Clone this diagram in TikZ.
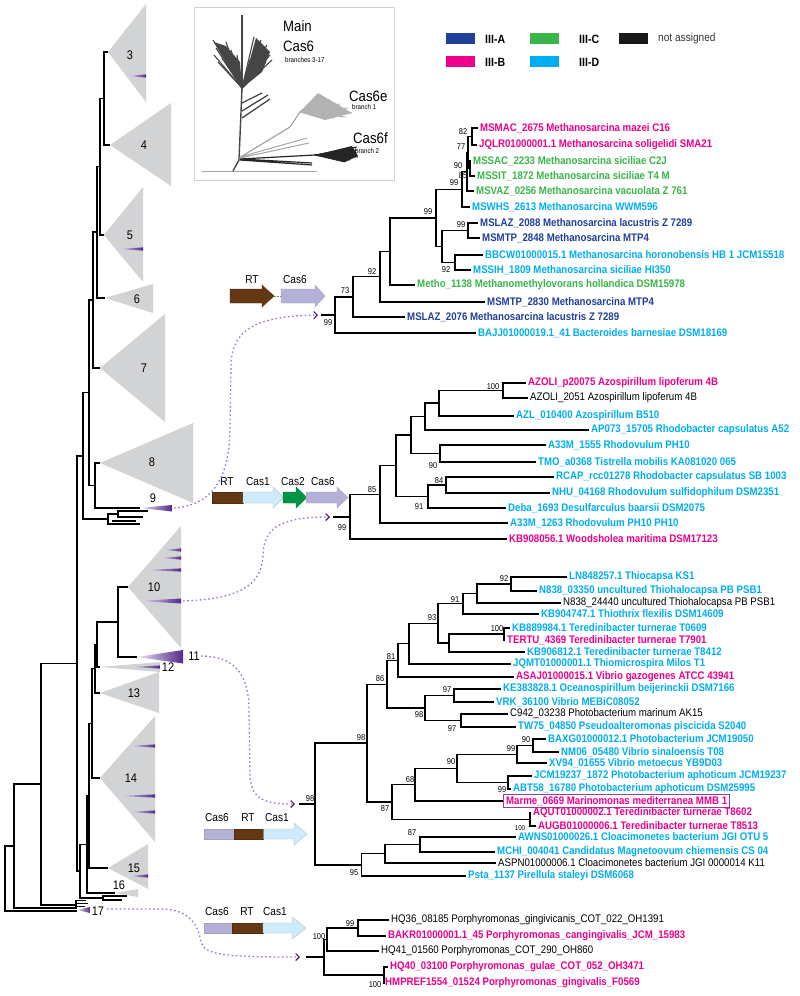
\documentclass[tikz,border=0pt]{standalone}
\usepackage{fontspec}
\setmainfont{Liberation Sans}[FakeStretch=0.88]
\usetikzlibrary{arrows.meta}
\definecolor{cA}{RGB}{33,64,154}
\definecolor{cB}{RGB}{236,0,140}
\definecolor{cC}{RGB}{57,181,74}
\definecolor{cD}{RGB}{0,174,239}
\definecolor{wedge}{RGB}{84,40,140}
\definecolor{dotc}{RGB}{160,115,210}
\definecolor{tipc}{RGB}{80,30,120}
\definecolor{tri}{RGB}{210,211,213}
\definecolor{rtc}{RGB}{101,56,20}
\definecolor{casone}{RGB}{205,235,250}
\definecolor{castwo}{RGB}{0,150,70}
\definecolor{cassix}{RGB}{180,176,216}
\definecolor{boxc}{RGB}{150,60,160}
\tikzset{
 tl/.style={line width=1.3pt, line join=miter},
 lt/.style={line width=1.4pt, line join=miter},
 lN/.style={anchor=west, inner sep=0pt, font=\fontsize{11}{12}\selectfont, text=black},
 lA/.style={lN, font=\fontsize{11}{12}\selectfont\bfseries, text=cA},
 lB/.style={lN, font=\fontsize{11}{12}\selectfont\bfseries, text=cB},
 lC/.style={lN, font=\fontsize{11}{12}\selectfont\bfseries, text=cC},
 lD/.style={lN, font=\fontsize{11}{12}\selectfont\bfseries, text=cD},
 bs/.style={inner sep=0pt, font=\fontsize{8.5}{9}\selectfont},
 gl/.style={inner sep=0pt, font=\fontsize{11.5}{12}\selectfont},
 cl/.style={inner sep=0pt, font=\fontsize{12.5}{13}\selectfont},
 leg/.style={anchor=west, inner sep=0pt, font=\fontsize{12}{13}\selectfont\bfseries},
 dotl/.style={draw=dotc, line width=1.3pt, dash pattern=on 1.6pt off 2.6pt,
   -{Straight Barb[length=3.5pt,width=7pt,color=tipc,line width=1.1pt]}},
 gbox/.style={line width=0.4pt},
 wd/.style={left color=wedge!12, right color=wedge},
}
\newcommand\tbr[5]{\draw[tl] (#2,#3) -- (#1,#3) -- (#1,#4) -- (#5,#4);}
\newcommand\lbr[5]{\draw[lt] (#2,#3) -- (#1,#3) -- (#1,#4) -- (#5,#4);}
\newcounter{nid}
\newcommand\lbl[4]{\stepcounter{nid}\node[#1] (L\arabic{nid}) at (#2,#3) {#4};}
\newcommand\bsv[3]{\stepcounter{nid}\node[bs] (B\arabic{nid}) at (#1,#2) {#3};}
\newcommand\pl[3]{\shade[wd] (#1,#3) -- (#2,#3-1.6) -- (#2,#3+1.6) -- cycle;}
\begin{document}
\begin{tikzpicture}[x=1pt,y=-1pt]
\useasboundingbox (0,0) rectangle (800,996);
\fill[white] (0,0) rectangle (800,996);

% ---------------- left overview tree ----------------
\fill[tri] (108,52) -- (146,4) -- (146,102) -- cycle;
\fill[tri] (110,145) -- (171,103) -- (171,186) -- cycle;
\fill[tri] (104,235) -- (143,187) -- (143,282) -- cycle;
\fill[tri] (105,298) -- (153,284) -- (153,313) -- cycle;
\fill[tri] (100,368) -- (165,314) -- (165,422) -- cycle;
\fill[tri] (100,463) -- (193,423) -- (193,503) -- cycle;
\fill[tri] (128,587) -- (181,526) -- (181,648) -- cycle;
\fill[tri] (100,667) -- (160,662) -- (160,672) -- cycle;
\fill[tri] (100,693) -- (159,672) -- (159,713) -- cycle;
\fill[tri] (100,778) -- (155,716) -- (155,842) -- cycle;
\fill[tri] (108,868) -- (148,844) -- (148,889) -- cycle;
\fill[tri] (115,893) -- (138,889) -- (138,897) -- cycle;

\pl{127}{146}{76}
\pl{117}{143}{249}
\pl{163}{181}{550}
\pl{160}{181}{558}
\pl{143}{181}{570}
\shade[wd] (138,601) -- (181,598.5) -- (181,603.5) -- cycle;
\pl{128}{155}{746}
\pl{117}{155}{796}
\pl{128}{155}{812}
\pl{128}{148}{876}
\pl{130}{160}{667}
\shade[wd] (140,508) -- (172,505) -- (172,511.5) -- cycle;
\shade[wd] (137,657) -- (183,650) -- (183,663.5) -- cycle;
\shade[wd] (77,910) -- (90,907) -- (90,913) -- cycle;

\node[cl] (c3) at (130,55) {3};
\node[cl] (c4) at (144,145) {4};
\node[cl] (c5) at (130,235) {5};
\node[cl] (c6) at (137,299) {6};
\node[cl] (c7) at (144,368) {7};
\node[cl] (c8) at (152,462) {8};
\node[cl] (c9) at (153,498) {9};
\node[cl] (c10) at (154,587) {10};
\node[cl] (c11) at (194,656) {11};
\node[cl] (c12) at (168,667) {12};
\node[cl] (c13) at (134,693) {13};
\node[cl] (c14) at (131,778) {14};
\node[cl] (c15) at (134,868) {15};
\node[cl] (c16) at (119,885) {16};
\node[cl] (c17) at (98,911) {17};

\lbr{104}{108}{52}{145}{110}
\lbr{100}{104}{98.5}{235}{104}
\lbr{97}{100}{166.75}{298}{105}
\lbr{93}{97}{232}{368}{100}
\lbr{95}{100}{463}{508}{140}
\lbr{89}{93}{300}{485.5}{95}
\lbr{83}{89}{392.75}{519}{108}
\lbr{108}{118}{514}{524}{140}
\lbr{118}{148}{511}{517}{143}
\draw[lt] (112,521) -- (136,521);
\lbr{118}{128}{587}{657}{137}
\lbr{97}{118}{622}{667}{100}
\lbr{95}{97}{644.5}{693}{100}
\lbr{92}{95}{668.75}{778}{100}
\lbr{89}{92}{723.4}{868}{108}
\lbr{87}{89}{795.7}{893}{115}
\lbr{80}{87}{844.35}{898}{103}
\lbr{103}{127}{896}{900}{122}
\lbr{77}{83}{456}{871}{80}
\lbr{41}{77}{663.5}{905}{76}
\lbr{14}{41}{784}{908}{76}
\lbr{5}{14}{846}{911}{77}
\draw[lt] (76,900) -- (76,909);
\draw[lt] (76,900.5) -- (86,900.5) (76,903.5) -- (88,903.5) (76,906.5) -- (85,906.5);

% ---------------- inset ----------------
\draw[gray!35, line width=0.8pt] (194,7) rectangle (394,180);
\draw[gray!70, line width=1pt] (202,171) -- (317,171);
\draw[gray!55!black, line width=1.4pt] (233,171) -- (239,160) -- (242,88);
\draw[gray!55!black, line width=2.2pt] (242,88) -- (242,15);
\fill[gray!55!black] (242,88) -- (214,42) -- (226,46) -- (240,62) -- cycle;
\fill[gray!55!black] (242,88) -- (256,38) -- (270,52) -- (262,72) -- cycle;
\foreach \p in {(213,40),(216,48),(214,55),(220,45),(222,58),(226,42),(228,62),(231,50),(234,66),(237,55),(218,62),
               (254,37),(257,45),(261,40),(264,50),(267,45),(270,55),(272,60),(266,62),(262,70),(258,66),(255,75),(250,60)}
  \draw[gray!55!black, line width=1.1pt] (242,88) -- \p;
\draw[gray!55!black, line width=1.3pt] (242,103) -- (262,93) (242,111) -- (268,95) (242,118) -- (270,99);
\draw[gray!75, line width=1.1pt] (239,158) -- (290,127) -- (300,112);
\fill[gray!60] (300,112) -- (318,93) -- (352,113) -- (325,120) -- cycle;
\foreach \p in {(320,95),(330,100),(340,104),(352,113),(345,117),(335,118),(325,119),(315,100),(310,105),(348,108)}
  \draw[gray!60, line width=1pt] (300,112) -- \p;
\draw[gray!70, line width=1pt] (240,157) -- (307,138) (240,158) -- (309,143);
\draw[black!85, line width=1.2pt] (240,159) -- (312,163) (240,160) -- (312,165) (240,159) -- (315,155);
\fill[black!85] (315,155) -- (352,146) -- (358,156) -- (345,162) -- cycle;
\foreach \p in {(357,147),(357,150),(352,153),(358,157),(350,160),(345,162)}
  \draw[black!85, line width=1pt] (315,155) -- \p;
\node[anchor=west, inner sep=0pt, font=\fontsize{15}{16}\selectfont] (im1) at (283,26) {Main};
\node[anchor=west, inner sep=0pt, font=\fontsize{15}{16}\selectfont] (im2) at (283,46) {Cas6};
\node[anchor=west, inner sep=0pt, font=\fontsize{7}{8}\selectfont] (im3) at (285,60) {branches 3-17};
\node[anchor=west, inner sep=0pt, font=\fontsize{15}{16}\selectfont] (im4) at (349,96) {Cas6e};
\node[anchor=west, inner sep=0pt, font=\fontsize{7}{8}\selectfont] (im5) at (352,107) {branch 1};
\node[anchor=west, inner sep=0pt, font=\fontsize{15}{16}\selectfont] (im6) at (353,138) {Cas6f};
\node[anchor=west, inner sep=0pt, font=\fontsize{7}{8}\selectfont] (im7) at (355,151) {branch 2};

% ---------------- legend ----------------
\fill[cA] (446,33) rectangle (475,44);
\fill[cC] (530,33) rectangle (559,44);
\fill[black!90] (619,33) rectangle (648,44);
\fill[cB] (446,56) rectangle (475,67);
\fill[cD] (530,56) rectangle (559,67);
\node[leg] (g1) at (485,39) {III-A};
\node[leg] (g2) at (579,39) {III-C};
\node[anchor=west, inner sep=0pt, font=\fontsize{11.5}{12}\selectfont, text=black!80] (g3) at (658,39) {not assigned};
\node[leg] (g4) at (485,62) {III-B};
\node[leg] (g5) at (579,62) {III-D};

% ---------------- tree 1 ----------------
\tbr{472}{478}{128}{145}{477}
\tbr{470}{471}{161}{176}{475}
\tbr{468}{472}{136.5}{168.5}{470}
\tbr{467}{468}{152.5}{191}{474}
\tbr{462}{467}{171.75}{207}{470}
\tbr{468}{478}{223}{238}{480}
\tbr{455}{483}{255}{270}{471}
\tbr{442}{468}{230.5}{262.5}{455}
\tbr{436}{462}{189.4}{246.5}{442}
\tbr{390}{436}{218}{285}{415}
\tbr{380}{390}{251.5}{302}{485}
\tbr{353}{380}{276.75}{317}{405}
\tbr{335}{353}{297}{333}{476}
\draw[tl] (321,315) -- (335,315);
\lbl{lB}{480}{128}{MSMAC\_2675 Methanosarcina mazei C16}
\lbl{lB}{479}{145}{JQLR01000001.1 Methanosarcina soligelidi SMA21}
\lbl{lC}{473}{161}{MSSAC\_2233 Methanosarcina siciliae C2J}
\lbl{lC}{477}{176}{MSSIT\_1872 Methanosarcina siciliae T4 M}
\lbl{lC}{476}{191}{MSVAZ\_0256 Methanosarcina vacuolata Z 761}
\lbl{lD}{472}{207}{MSWHS\_2613 Methanosarcina WWM596}
\lbl{lA}{480}{223}{MSLAZ\_2088 Methanosarcina lacustris Z 7289}
\lbl{lA}{482}{238}{MSMTP\_2848 Methanosarcina MTP4}
\lbl{lD}{485}{255}{BBCW01000015.1 Methanosarcina horonobensis HB 1 JCM15518}
\lbl{lD}{473}{270}{MSSIH\_1809 Methanosarcina siciliae HI350}
\lbl{lC}{417}{285}{Metho\_1138 Methanomethylovorans hollandica DSM15978}
\lbl{lA}{487}{302}{MSMTP\_2830 Methanosarcina MTP4}
\lbl{lA}{407}{317}{MSLAZ\_2076 Methanosarcina lacustris Z 7289}
\lbl{lD}{478}{333}{BAJJ01000019.1\_41 Bacteroides barnesiae DSM18169}
\bsv{463}{132}{82}
\bsv{461}{147}{77}
\bsv{458}{166}{90}
\bsv{463}{176}{85}
\bsv{454}{183}{99}
\bsv{428}{212}{99}
\bsv{461}{225}{99}
\bsv{446}{270}{92}
\bsv{372}{272}{92}
\bsv{345}{291}{73}
\bsv{328}{323}{99}

% ---------------- tree 2 ----------------
\tbr{503}{526}{383}{398}{528}
\tbr{439}{503}{390.5}{416}{514}
\tbr{425}{439}{403}{430}{589}
\tbr{440}{546}{445}{462}{536}
\tbr{411}{425}{416.5}{453.5}{440}
\tbr{446}{554}{477}{493}{550}
\tbr{428}{446}{485}{508}{506}
\tbr{396}{411}{435}{496.5}{428}
\tbr{380}{396}{465.75}{523}{508}
\tbr{350}{380}{494.4}{539}{507}
\draw[tl] (333,517) -- (350,517);
\lbl{lB}{528}{383}{AZOLI\_p20075 Azospirillum lipoferum 4B}
\lbl{lN}{530}{398}{AZOLI\_2051 Azospirillum lipoferum 4B}
\lbl{lD}{516}{416}{AZL\_010400 Azospirillum B510}
\lbl{lD}{591}{430}{AP073\_15705 Rhodobacter capsulatus A52}
\lbl{lD}{548}{445}{A33M\_1555 Rhodovulum PH10}
\lbl{lD}{538}{462}{TMO\_a0368 Tistrella mobilis KA081020 065}
\lbl{lD}{556}{477}{RCAP\_rcc01278 Rhodobacter capsulatus SB 1003}
\lbl{lD}{552}{493}{NHU\_04168 Rhodovulum sulfidophilum DSM2351}
\lbl{lD}{508}{508}{Deba\_1693 Desulfarculus baarsii DSM2075}
\lbl{lD}{510}{523}{A33M\_1263 Rhodovulum PH10 PH10}
\lbl{lB}{509}{539}{KB908056.1 Woodsholea maritima DSM17123}
\bsv{493}{387}{100}
\bsv{433}{466}{90}
\bsv{439}{481}{84}
\bsv{419}{507}{91}
\bsv{372}{490}{85}
\bsv{342}{528}{99}

% ---------------- tree 3 ----------------
\tbr{511}{567}{577}{591}{537}
\tbr{477}{511}{584}{603}{561}
\tbr{463}{477}{593.5}{614}{539}
\tbr{504}{510}{628}{640}{505}
\tbr{449}{504}{634}{652}{525}
\tbr{438}{463}{603.75}{643}{449}
\tbr{409}{438}{623.4}{664}{511}
\tbr{398}{409}{643.7}{677}{514}
\tbr{454}{501}{689}{702}{494}
\tbr{461}{508}{714}{727}{516}
\tbr{425}{454}{695.5}{720.5}{461}
\tbr{387}{398}{660.35}{708}{425}
\tbr{533}{546}{739}{752}{559}
\tbr{517}{533}{745.5}{763}{547}
\tbr{508}{532}{776}{789}{511}
\tbr{457}{517}{754.25}{782.5}{508}
\tbr{415}{457}{768.4}{801}{503}
\tbr{530}{531}{813}{826}{536}
\tbr{392}{415}{784.7}{819.5}{530}
\tbr{367}{387}{684.2}{802.1}{392}
\tbr{420}{516}{837}{852}{495}
\tbr{385}{420}{844.5}{863}{496}
\tbr{361.5}{385}{853.75}{876}{466}
\tbr{315}{367}{743.1}{864.9}{361.5}
\draw[tl] (299,804) -- (315,804);
\lbl{lD}{569}{577}{LN848257.1 Thiocapsa KS1}
\lbl{lD}{539}{591}{N838\_03350 uncultured Thiohalocapsa PB PSB1}
\lbl{lN}{563}{603}{N838\_24440 uncultured Thiohalocapsa PB PSB1}
\lbl{lD}{541}{614}{KB904747.1 Thiothrix flexilis DSM14609}
\lbl{lD}{512}{628}{KB889984.1 Teredinibacter turnerae T0609}
\lbl{lB}{507}{640}{TERTU\_4369 Teredinibacter turnerae T7901}
\lbl{lD}{527}{652}{KB906812.1 Teredinibacter turnerae T8412}
\lbl{lD}{513}{664}{JQMT01000001.1 Thiomicrospira Milos T1}
\lbl{lB}{516}{677}{ASAJ01000015.1 Vibrio gazogenes ATCC 43941}
\lbl{lD}{503}{689}{KE383828.1 Oceanospirillum beijerinckii DSM7166}
\lbl{lD}{496}{702}{VRK\_36100 Vibrio MEBiC08052}
\lbl{lN}{510}{714}{C942\_03238 Photobacterium marinum AK15}
\lbl{lD}{518}{727}{TW75\_04850 Pseudoalteromonas piscicida S2040}
\lbl{lD}{548}{739}{BAXG01000012.1 Photobacterium JCM19050}
\lbl{lD}{561}{752}{NM06\_05480 Vibrio sinaloensis T08}
\lbl{lD}{549}{763}{XV94\_01655 Vibrio metoecus YB9D03}
\lbl{lD}{534}{776}{JCM19237\_1872 Photobacterium aphoticum JCM19237}
\lbl{lD}{513}{789}{ABT58\_16780 Photobacterium aphoticum DSM25995}
\lbl{lB, draw=boxc, line width=1.2pt, inner xsep=2.5pt, inner ysep=1.6pt}{503}{801}{Marme\_0669 Marinomonas mediterranea MMB 1}
\lbl{lB}{533}{813}{AQUT01000002.1 Teredinibacter turnerae T8602}
\lbl{lB}{538}{826}{AUGB01000006.1 Teredinibacter turnerae T8513}
\lbl{lD}{518}{837}{AWNS01000026.1 Cloacimonetes bacterium JGI OTU 5}
\lbl{lD}{497}{852}{MCHI\_004041 Candidatus Magnetoovum chiemensis CS 04}
\lbl{lN}{498}{863}{ASPN01000006.1 Cloacimonetes bacterium JGI 0000014 K11}
\lbl{lD}{468}{876}{Psta\_1137 Pirellula staleyi DSM6068}
\bsv{504}{579}{92}
\bsv{455}{600}{91}
\bsv{432}{618}{93}
\bsv{497}{629}{100}
\bsv{391}{657}{81}
\bsv{380}{679}{86}
\bsv{447}{690}{97}
\bsv{419}{715}{98}
\bsv{452}{729}{97}
\bsv{361}{738}{98}
\bsv{526}{740}{90}
\bsv{511}{749}{99}
\bsv{451}{762}{90}
\bsv{410}{780}{68}
\bsv{502}{790}{99}
\bsv{385}{809}{87}
\node[bs, font=\fontsize{7}{8}\selectfont] (B100) at (520,828) {100};
\bsv{412}{833}{87}
\bsv{354}{873}{95}
\bsv{310}{799}{98}

% ---------------- tree 4 ----------------
\tbr{358}{389}{920}{936}{386}
\tbr{327}{358}{928}{951}{379}
\tbr{384}{388}{967}{983}{384.5}
\tbr{324}{327}{939.5}{975}{384}
\draw[tl] (306,957) -- (324,957);
\lbl{lN}{391}{920}{HQ36\_08185 Porphyromonas\_gingivicanis\_COT\_022\_OH1391}
\lbl{lB}{388}{936}{BAKR01000001.1\_45 Porphyromonas\_cangingivalis\_JCM\_15983}
\lbl{lN}{381}{951}{HQ41\_01560 Porphyromonas\_COT\_290\_OH860}
\lbl{lB}{390}{967}{HQ40\_03100 Porphyromonas\_gulae\_COT\_052\_OH3471}
\lbl{lB}{385}{983}{HMPREF1554\_01524 Porphyromonas\_gingivalis\_F0569}
\bsv{350}{924}{99}
\bsv{319}{937}{100}
\bsv{375}{985}{100}

% ---------------- gene clusters ----------------
\filldraw[fill=rtc, draw=rtc!80!black, gbox] (230,289) -- (262,289) -- (262,285) -- (274,296) -- (262,307) -- (262,303) -- (230,303) -- cycle;
\draw[gray, line width=0.8pt, dash pattern=on 1.5pt off 1.5pt] (274,296) -- (281,296);
\filldraw[fill=cassix, draw=cassix!70!gray, gbox] (281,289) -- (315,289) -- (315,285) -- (325,296) -- (315,307) -- (315,303) -- (281,303) -- cycle;
\node[gl] (ga1) at (252,280) {RT};
\node[gl] (ga2) at (295,280) {Cas6};

\filldraw[fill=rtc, draw=rtc!80!black, gbox] (212,492) rectangle (243,503);
\filldraw[fill=casone, draw=casone!60!gray, gbox] (243,492) -- (273,492) -- (273,487) -- (284,497.5) -- (273,508) -- (273,503) -- (243,503) -- cycle;
\filldraw[fill=castwo, draw=castwo!80!black, gbox] (283,492) -- (296,492) -- (296,487) -- (307,497.5) -- (296,508) -- (296,503) -- (283,503) -- cycle;
\filldraw[fill=cassix, draw=cassix!70!gray, gbox] (306,492) -- (337,492) -- (337,487) -- (348,497.5) -- (337,508) -- (337,503) -- (306,503) -- cycle;
\node[gl] (gb1) at (227,482) {RT};
\node[gl] (gb2) at (258,482) {Cas1};
\node[gl] (gb3) at (293,482) {Cas2};
\node[gl] (gb4) at (323,482) {Cas6};

\filldraw[fill=cassix, draw=cassix!70!gray, gbox] (204,829) rectangle (234,839);
\filldraw[fill=rtc, draw=rtc!80!black, gbox] (234,829) rectangle (263.5,839);
\filldraw[fill=casone, draw=casone!60!gray, gbox] (263.5,829) -- (294,829) -- (294,823) -- (307,834) -- (294,845) -- (294,839) -- (263.5,839) -- cycle;
\node[gl] (gc1) at (217,818) {Cas6};
\node[gl] (gc2) at (248,818) {RT};
\node[gl] (gc3) at (277,818) {Cas1};

\filldraw[fill=cassix, draw=cassix!70!gray, gbox] (204,923) rectangle (232,933);
\filldraw[fill=rtc, draw=rtc!80!black, gbox] (232,923) rectangle (263,933);
\filldraw[fill=casone, draw=casone!60!gray, gbox] (263,923) -- (292,923) -- (292,917) -- (306,928) -- (292,939) -- (292,933) -- (263,933) -- cycle;
\node[gl] (gd1) at (217,912) {Cas6};
\node[gl] (gd2) at (247,912) {RT};
\node[gl] (gd3) at (275,912) {Cas1};

% ---------------- dotted connectors ----------------
\coordinate (d1s) at (174,508);
\coordinate (d1e) at (318,315);
\coordinate (d2s) at (183,601);
\coordinate (d2e) at (330,517);
\coordinate (d3s) at (201,656);
\coordinate (d3e) at (295,804);
\coordinate (d4s) at (107,909);
\coordinate (d4e) at (300,957);
\draw[dotl] (d1s) .. controls (215,505) and (229,475) .. (230,430) -- (231,365) .. controls (232,330) and (255,316) .. (d1e);
\draw[dotl] (d2s) .. controls (240,599) and (262,585) .. (263,555) .. controls (264,525) and (285,517) .. (d2e);
\draw[dotl] (d3s) .. controls (235,656) and (249,675) .. (249,710) -- (250,775) .. controls (251,800) and (265,804) .. (d3e);
\draw[dotl] (d4s) -- (160,909) .. controls (190,909) and (198,925) .. (201,942) .. controls (204,955) and (225,957) .. (d4e);
\end{tikzpicture}
\end{document}
